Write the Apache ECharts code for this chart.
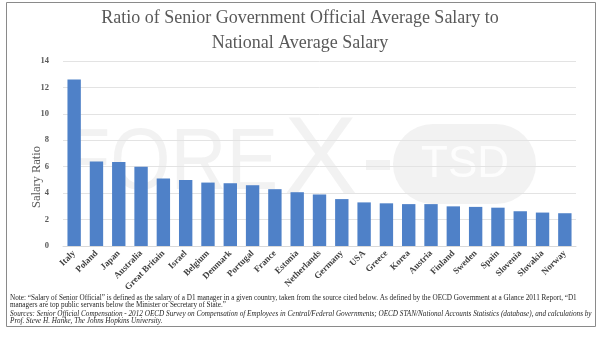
<!DOCTYPE html>
<html><head><meta charset="utf-8">
<script src="https://cdn.jsdelivr.net/npm/echarts@6/dist/echarts.min.js"></script>
<style>html,body{margin:0;padding:0;background:#fff}#c{width:600px;height:337px}</style>
</head><body><div id="c"></div>
<script>
const categories = ["Italy","Poland","Japan","Australia","Great Britain","Israel","Belgium","Denmark","Portugal","France","Estonia","Netherlands","Germany","USA","Greece","Korea","Austria","Finland","Sweden","Spain","Slovenia","Slovakia","Norway"];
const salaryRatio = [12.6,6.4,6.35,6.0,5.1,5.0,4.8,4.75,4.6,4.3,4.07,3.9,3.55,3.3,3.23,3.17,3.17,3.0,2.96,2.9,2.63,2.53,2.48];
const yTicks = {min:0,max:14,interval:2};
const titleText = "Ratio of Senior Government Official Average Salary to\nNational Average Salary";
const noteLines = [
 "Note: \u201cSalary of Senior Official\u201d is defined as the salary of a D1 manager in a given country, taken from the source cited below. As defined by the OECD Government at a Glance 2011 Report, \u201cD1",
 "managers are top public servants below the Minister or Secretary of State.\u201d"
];
const sourceLines = [
 "Sources: Senior Official Compensation - 2012 OECD Survey on Compensation of Employees in Central/Federal Governments; OECD STAN/National Accounts Statistics (database), and calculations by",
 "Prof. Steve H. Hanke, The Johns Hopkins University."
];
const serif = "'Liberation Serif','DejaVu Serif',serif";
const foot = serif;
const chart = echarts.init(document.getElementById('c'), null, {renderer:'canvas'});
const wm = 'rgba(215,215,215,0.32)';
chart.setOption({
  animation:false,
  title:{text:titleText,left:'center',top:1,textStyle:{fontFamily:serif,fontSize:18,fontWeight:'normal',color:'#595959',lineHeight:25}},
  grid:{left:63,right:24,top:61,bottom:91},
  xAxis:{type:'category',data:categories,
    axisLine:{lineStyle:{color:'#d9d9d9'}},axisTick:{show:false},
    axisLabel:{rotate:45,interval:0,fontFamily:serif,fontSize:9,fontWeight:'bold',color:'#404040',margin:6}},
  yAxis:{type:'value',min:yTicks.min,max:yTicks.max,interval:yTicks.interval,
    axisLine:{show:false},axisTick:{show:false},
    splitLine:{lineStyle:{color:'#e3e3e3'}},
    axisLabel:{fontFamily:serif,fontSize:8.5,fontWeight:'bold',color:'#595959',margin:14}},
  series:[{type:'bar',data:salaryRatio,barCategoryGap:'40%',itemStyle:{color:'#4f81c8'}}],
  graphic:[
    {type:'rect',shape:{x:6.5,y:2.5,width:589,height:324},style:{fill:'none',stroke:'#8a8a8a',lineWidth:1},z:0},
    {type:'text',x:37,y:177,rotation:Math.PI/2,style:{text:'Salary Ratio',fontFamily:serif,fontSize:12.5,fill:'#595959',align:'center',verticalAlign:'middle'}},
    {type:'text',x:10,y:298,style:{text:noteLines[0],fontFamily:foot,fontSize:7.2,fill:'#262626',verticalAlign:'middle'}},
    {type:'text',x:10,y:305,style:{text:noteLines[1],fontFamily:foot,fontSize:7.2,fill:'#262626',verticalAlign:'middle'}},
    {type:'text',x:10,y:314,style:{text:sourceLines[0],fontFamily:foot,fontSize:7.2,fontStyle:'italic',fill:'#262626',verticalAlign:'middle'}},
    {type:'text',x:10,y:321,style:{text:sourceLines[1],fontFamily:foot,fontSize:7.2,fontStyle:'italic',fill:'#262626',verticalAlign:'middle'}},
    {type:'group',z:100,children:[
      {type:'text',x:63,y:209,scaleX:0.88,style:{text:'FORE',fontFamily:"'Liberation Sans',sans-serif",fontSize:88,fill:wm,verticalAlign:'bottom'}},
      {type:'text',x:284,y:218,style:{text:'X',fontFamily:"'Liberation Sans',sans-serif",fontSize:110,fill:wm,verticalAlign:'bottom'}},
      {type:'rect',shape:{x:366,y:160,width:24,height:10},style:{fill:wm}},
      {type:'rect',shape:{x:393,y:124,width:143,height:80,r:40},style:{fill:wm}},
      {type:'text',x:465,y:165,style:{text:'TSD',fontFamily:"'Liberation Sans',sans-serif",fontSize:44,fill:'rgba(255,255,255,0.85)',align:'center',verticalAlign:'middle'}}
    ]}
  ]
});
</script></body></html>
